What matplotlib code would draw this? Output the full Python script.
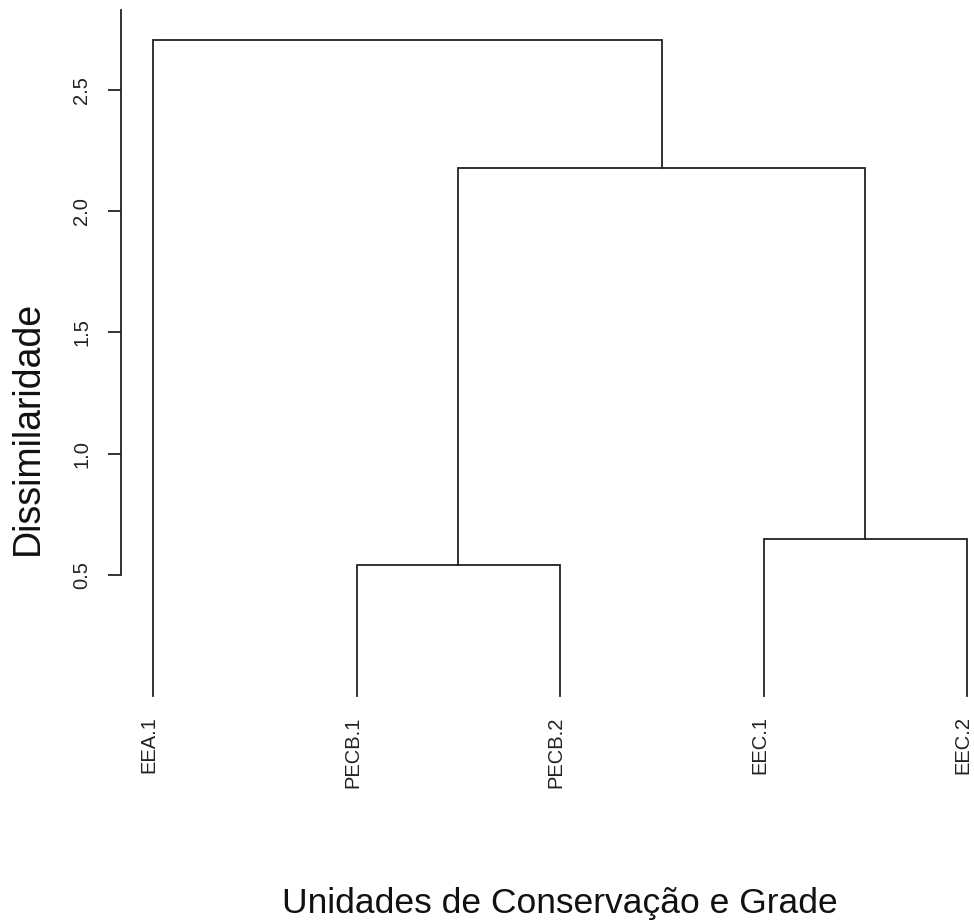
import matplotlib
matplotlib.use("Agg")
import matplotlib.pyplot as plt
import matplotlib.transforms as mtransforms

plt.rcParams['font.family'] = ['Liberation Sans', 'DejaVu Sans']

# Leaf order (left to right) and labels
labels = ["EEA.1", "PECB.1", "PECB.2", "EEC.1", "EEC.2"]
# merges: (left, right, height); negative = leaf index (1-based), positive = earlier merge
merge_left = [-2, -4, 1, -1]
merge_right = [-3, -5, 2, 3]
merge_height = [0.54, 0.648, 2.18, 2.706]
yticks = [0.5, 1.0, 1.5, 2.0, 2.5]
ytick_labels = ["0.5", "1.0", "1.5", "2.0", "2.5"]
xlabel = "Unidades de Conservação e Grade"
ylabel = "Dissimilaridade"

W, H = 974, 922
fig = plt.figure(figsize=(W / 100, H / 100), dpi=100)
ax = fig.add_axes([0, 0, 1, 1])

# pixel mapping
x0_px, dx_px = 153, 203.5
y05_px, dy_px = 575, 242.5
ax.set_xlim(1 - x0_px / dx_px, 1 + (W - x0_px) / dx_px)
ax.set_ylim(0.5 - (H - y05_px) / dy_px, 0.5 + y05_px / dy_px)

lc = "#222222"
lw = 1.3
pos = {}
hgt = {}
def node(i):
    if i < 0:
        return float(-i), 0.0
    return pos[i], hgt[i]

for k, (l, r, h) in enumerate(zip(merge_left, merge_right, merge_height), start=1):
    xl, yl = node(l)
    xr, yr = node(r)
    ax.plot([xl, xl, xr, xr], [yl, h, h, yr], color=lc, lw=lw, solid_joinstyle='miter')
    pos[k] = (xl + xr) / 2
    hgt[k] = h

# leaf labels
off = mtransforms.offset_copy(ax.transData, fig=fig, x=-4, y=-20, units='dots')
for i, lab in enumerate(labels, start=1):
    ax.text(i, 0, lab, rotation=90, ha='center', va='top', fontsize=14.5,
            color="#222222", transform=off)

# y axis
for s in ["top", "right", "bottom"]:
    ax.spines[s].set_visible(False)
spine_x = 1 - (x0_px - 121) / dx_px
ax.spines["left"].set_position(("data", spine_x))
ax.spines["left"].set_bounds(0.5, 0.5 + (y05_px - 10) / dy_px)
ax.spines["left"].set_color(lc)
ax.spines["left"].set_linewidth(lw)
ax.set_xticks([])
ax.set_yticks(yticks)
ax.set_yticklabels(ytick_labels, rotation=90, va='center', fontsize=14.5, color="#222222")
ax.tick_params(axis='y', direction='out', length=9.4, width=lw, color=lc, pad=12)

fig.text(560 / W, 1 - 913 / H, xlabel, ha='center', va='baseline', fontsize=25.5, color="#111111")
fig.text(28 / W, 1 - 428 / H, ylabel, ha='center', va='center', rotation=90, fontsize=27, color="#111111")

fig.savefig("out.png", dpi=100, facecolor="white")
